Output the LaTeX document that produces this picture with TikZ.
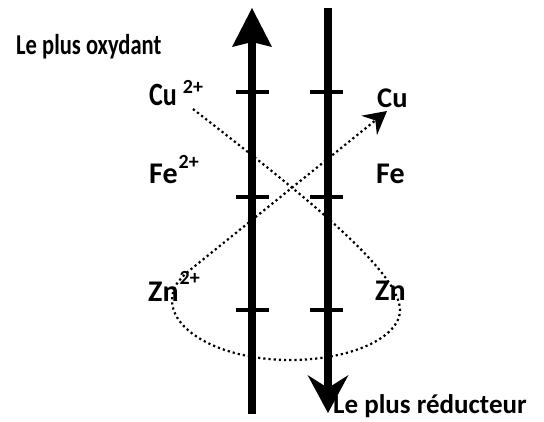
\documentclass[tikz,border=0pt]{standalone}
\usepackage{fontspec}
\setmainfont{Carlito}
\usetikzlibrary{arrows.meta}
\newcommand\myexp[2][14pt]{\raisebox{#1}{\fontsize{20}{20}\selectfont #2}}
\tikzset{
  lbl/.style={inner sep=0pt, anchor=base west, font=\fontsize{30}{32}\selectfont\bfseries},
  axis/.style={line width=8pt},
  tick/.style={line width=4pt},
  dotpath/.style={line width=2.2pt, dash pattern=on 2.2pt off 3pt},
}
\begin{document}
\begin{tikzpicture}[x=1pt,y=-1pt]
\useasboundingbox (0,0) rectangle (544,421);
% axes
\coordinate (lb) at (252,414);
\coordinate (lt) at (252,8);
\coordinate (rt) at (328,8);
\coordinate (rb) at (328,413);
\draw[axis, -{Stealth[length=39pt,width=40pt,inset=5pt,line width=0pt]}] (lb) -- (lt);
\draw[axis, -{Stealth[length=38pt,width=41pt,inset=13pt,line width=0pt]}] (rt) -- (rb);
% ticks
\foreach \y/\n in {92/a,197/b,310/c}{
  \coordinate (l1\n) at (236,\y); \coordinate (l2\n) at (269,\y);
  \coordinate (r1\n) at (310,\y); \coordinate (r2\n) at (343,\y);
  \draw[tick] (l1\n) -- (l2\n);
  \draw[tick] (r1\n) -- (r2\n);
}
% labels
\node[lbl, font=\fontsize{23}{26}\selectfont\bfseries] (ox) at (16,54) {\scalebox{0.98}[1.25]{Le plus oxydant}};
\node[lbl, font=\fontsize{27}{30}\selectfont\bfseries] (red) at (333,413) {Le plus réducteur};
\node[lbl, font=\fontsize{26}{30}\selectfont\bfseries] (cu2) at (149,105) {\scalebox{1}[1.25]{Cu}\kern6pt\myexp[12pt]{2+}};
\node[lbl] (fe2) at (149,183) {Fe\kern1pt\myexp[15pt]{2+}};
\node[lbl] (zn2) at (148,301) {Zn\kern1pt\myexp[17pt]{2+}};
\node[lbl, font=\fontsize{28.5}{30}\selectfont\bfseries] (cu) at (377,107) {Cu};
\node[lbl] (fe) at (376,183) {Fe};
\node[lbl] (zn) at (375,300) {Zn};
% dotted path
\coordinate (p0) at (193,109);
\coordinate (p1) at (400,310);
\coordinate (p2) at (290,360);
\coordinate (p3) at (172,300);
\coordinate (p4) at (190,270);
\coordinate (p5) at (387,111);
\draw[dotpath, -{Stealth[length=23pt,width=25pt,inset=8pt,line width=0pt]}]
  (p0) .. controls (293,187) and (400,270) .. (p1)
       .. controls (400,338) and (350,360) .. (p2)
       .. controls (225,360) and (172,333) .. (p3)
       .. controls (172,288) and (178,280) .. (p4)
       -- (p5);
\end{tikzpicture}
\end{document}
